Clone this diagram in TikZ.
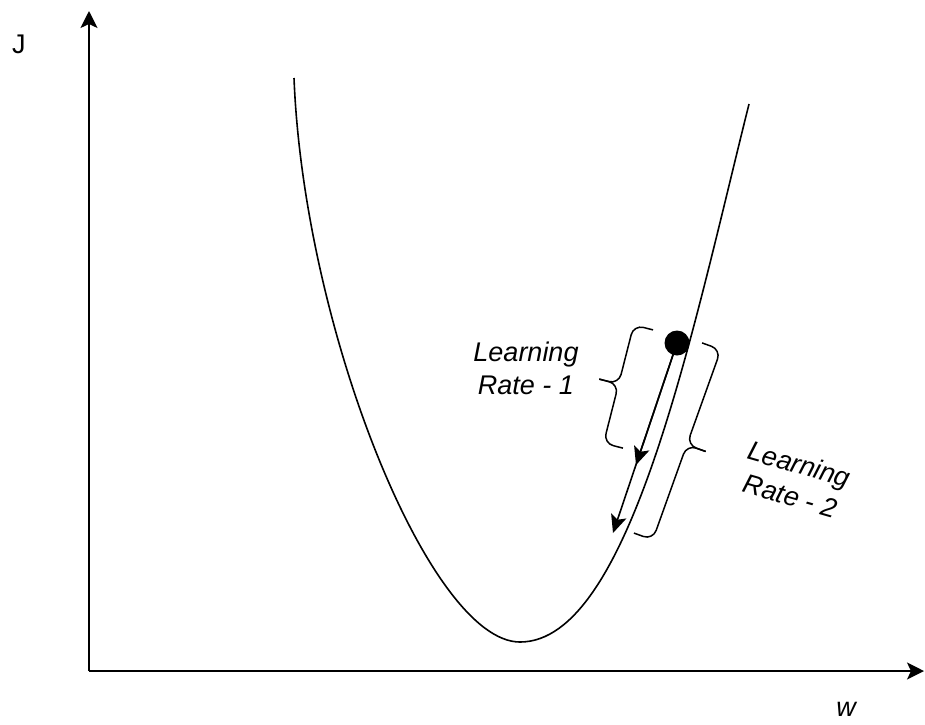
\documentclass[tikz,border=0pt]{standalone}
\usepackage{fontspec}
\setmainfont{Liberation Sans}
\usetikzlibrary{arrows.meta}
\tikzset{
  axisline/.style={line width=1.6pt,-{Stealth[length=17pt,width=17pt,inset=4pt]}},
  curveline/.style={line width=1.6pt},
  steparrow/.style={line width=1.6pt,-{Stealth[length=18pt,width=16pt,inset=4pt]}},
  bracepath/.style={line width=1.5pt,rounded corners=10pt},
  lbl/.style={font=\fontsize{27}{33}\selectfont\itshape,align=center,inner sep=0pt},
  axlbl/.style={font=\fontsize{27}{33}\selectfont,inner sep=0pt},
  dotnode/.style={circle,fill=black,inner sep=0pt,minimum size=25pt}
}
\begin{document}
\begin{tikzpicture}[x=1pt,y=1pt]
\useasboundingbox (0,0) rectangle (925,-724);
% axes
\coordinate (origin) at (89,-671);
\coordinate (ytop) at (89,-11);
\coordinate (xend) at (924,-671);
\draw[axisline] (origin) -- (ytop);
\draw[axisline] (origin) -- (xend);
\node[axlbl] (J) at (19,-44) {J};
\node[axlbl,font=\fontsize{27}{33}\selectfont\itshape] (w) at (846,-709) {w};
% cost curve
\draw[curveline] (294,-78) .. controls (304,-330) and (430,-642) .. (520,-642)
  .. controls (630,-642) and (692,-332) .. (749,-104);
% dot and arrows
\node[dotnode] (dot) at (677,-343) {};
\coordinate (a1) at (636,-465);
\coordinate (a2) at (613,-533);
\draw[steparrow] (dot.center) -- (a2);
\draw[steparrow] (dot.center) -- (a1);
% left brace (Learning Rate - 1)
\begin{scope}[shift={(638,-389)},rotate=-14.3]
  \draw[bracepath] (0,61) -- (-20,61) -- (-20,0) -- (-40,0);
  \draw[bracepath] (0,-61) -- (-20,-61) -- (-20,0) -- (-40,0);
\end{scope}
% right brace (Learning Rate - 2)
\begin{scope}[shift={(668,-438)},rotate=-19.7]
  \draw[bracepath] (0,101) -- (20,101) -- (20,0) -- (40,0);
  \draw[bracepath] (0,-101) -- (20,-101) -- (20,0) -- (40,0);
\end{scope}
% labels
\node[lbl] (lr1) at (526,-368) {Learning\\Rate - 1};
\node[lbl,rotate=-16] (lr2) at (795,-480) {Learning\\Rate - 2};
\end{tikzpicture}
\end{document}
